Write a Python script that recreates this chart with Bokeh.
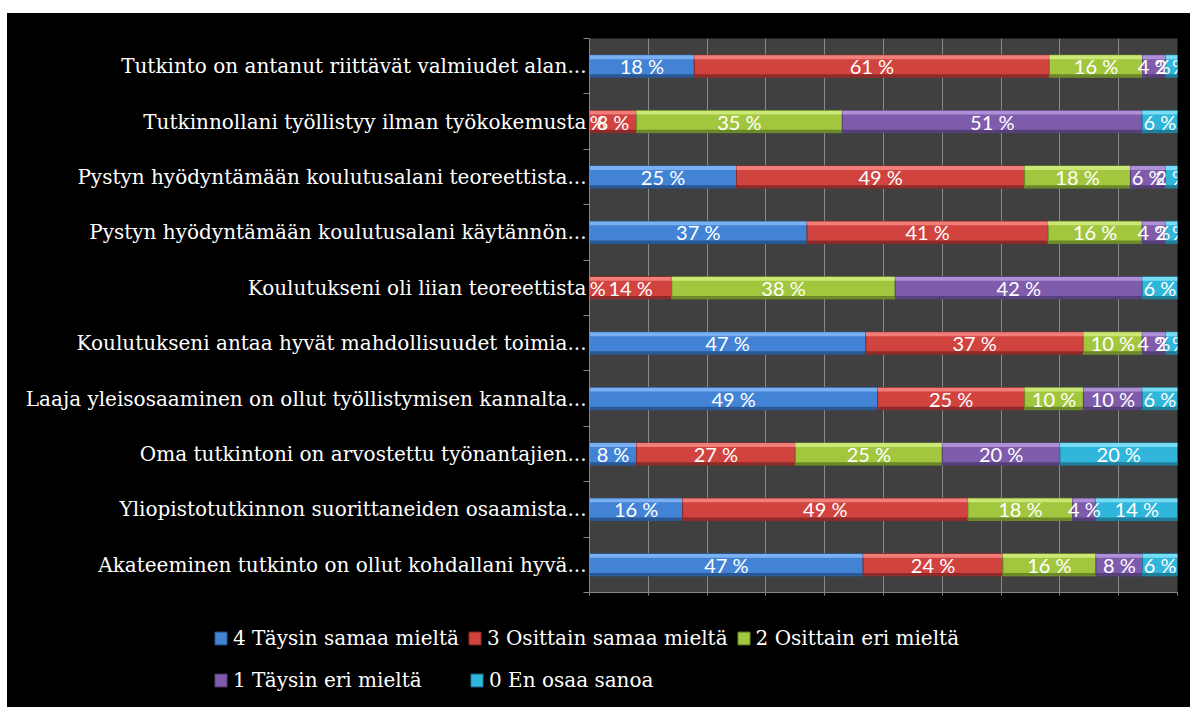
from bokeh.plotting import figure
from bokeh.models import ColumnDataSource, FixedTicker, Legend, LegendItem, Range1d, Spacer
from bokeh.layouts import column, row
from bokeh.core.properties import value
from bokeh.transform import dodge
from bokeh.embed import file_html
from bokeh.resources import INLINE

categories = [
    "Tutkinto on antanut riittävät valmiudet alan...",
    "Tutkinnollani työllistyy ilman työkokemusta",
    "Pystyn hyödyntämään koulutusalani teoreettista...",
    "Pystyn hyödyntämään koulutusalani käytännön...",
    "Koulutukseni oli liian teoreettista",
    "Koulutukseni antaa hyvät mahdollisuudet toimia...",
    "Laaja yleisosaaminen on ollut työllistymisen kannalta...",
    "Oma tutkintoni on arvostettu työnantajien...",
    "Yliopistotutkinnon suorittaneiden osaamista...",
    "Akateeminen tutkinto on ollut kohdallani hyvä...",
]

series_names = [
    "4 Täysin samaa mieltä",
    "3 Osittain samaa mieltä",
    "2 Osittain eri mieltä",
    "1 Täysin eri mieltä",
    "0 En osaa sanoa",
]

taysin_samaa = [18, 0, 25, 37, 0, 47, 49, 8, 16, 47]
osittain_samaa = [61, 8, 49, 41, 14, 37, 25, 27, 49, 24]
osittain_eri = [16, 35, 18, 16, 38, 10, 10, 25, 18, 16]
taysin_eri = [4, 51, 6, 4, 42, 4, 10, 20, 4, 8]
en_osaa = [2, 6, 2, 2, 6, 2, 6, 20, 14, 6]

series_values = [taysin_samaa, osittain_samaa, osittain_eri, taysin_eri, en_osaa]

colors = ["#4283d6", "#d0433f", "#a2c63e", "#7f5cab", "#2fb6da"]
light = ["#7ab0f2", "#f27e7a", "#cbe877", "#ae90d6", "#78dcf4"]
dark = ["#2a5894", "#8c2b29", "#6c8929", "#56407a", "#1f7e99"]

n = len(categories)
ypos = [n - 1 - i for i in range(n)]
totals = [sum(s[i] for s in series_values) for i in range(n)]

p = figure(
    width=1183, height=589,
    x_range=Range1d(0, 100), y_range=Range1d(-0.5, n - 0.5),
    output_backend="svg", toolbar_location=None,
    background_fill_color="#404040", border_fill_color="black",
    outline_line_color=None,
    min_border_left=582, min_border_right=13, min_border_top=25, min_border_bottom=10,
)

# axes
p.yaxis.ticker = FixedTicker(ticks=ypos, minor_ticks=[k - 0.5 for k in range(n + 1)])
p.yaxis.major_label_overrides = {ypos[i]: categories[i] for i in range(n)}
p.yaxis.major_label_text_font = "DejaVu Serif"
p.yaxis.major_label_text_font_size = "20px"
p.yaxis.major_label_text_color = "white"
p.yaxis.major_tick_out = 0
p.yaxis.major_tick_in = 0
p.yaxis.minor_tick_out = 6
p.yaxis.minor_tick_in = 0
p.yaxis.minor_tick_line_color = "#868686"
p.yaxis.axis_line_color = "#868686"
p.yaxis.major_label_standoff = -3

xt = list(range(0, 101, 10))
p.xaxis.ticker = FixedTicker(ticks=xt)
p.xaxis.major_label_text_color = None
p.xaxis.major_label_text_font_size = "1px"
p.xaxis.major_label_standoff = 0
p.xaxis.major_tick_out = 3
p.xaxis.major_tick_in = 0
p.xaxis.major_tick_line_color = "#868686"
p.xaxis.axis_line_color = "#868686"
p.xgrid.ticker = FixedTicker(ticks=xt)
p.xgrid.grid_line_color = "#8a8a8a"
p.ygrid.grid_line_color = None

cum = [0.0] * n
bounds = []
for k, vals in enumerate(series_values):
    left = cum[:]
    right = [cum[i] + vals[i] * 100.0 / totals[i] for i in range(n)]
    cum = right
    bounds.append((left, right))
    src = ColumnDataSource(dict(y=ypos, left=left, right=right))
    p.hbar(y="y", left="left", right="right", height=0.40, source=src,
           fill_color=colors[k], line_color=dark[k], line_width=1)
    p.hbar(y=dodge("y", 0.162), left="left", right="right", height=0.07, source=src,
           fill_color=light[k], line_color=None)
    p.hbar(y=dodge("y", -0.172), left="left", right="right", height=0.05, source=src,
           fill_color=dark[k], line_color=None)

# labels after all bars so they are on top
for k, vals in enumerate(series_values):
    left, right = bounds[k]
    lsrc = ColumnDataSource(dict(
        y=ypos, mid=[(left[i] + right[i]) / 2 for i in range(n)],
        label=[f"{v} %" for v in vals],
    ))
    p.text(x="mid", y="y", text="label", source=lsrc, text_color="white",
           text_font=value("Lato"), text_font_size="20px",
           text_align="center", text_baseline="middle")

# legend figure below the chart
lf = figure(
    width=1183, height=105, x_range=Range1d(0, 1), y_range=Range1d(0, 1),
    output_backend="svg", toolbar_location=None,
    background_fill_color="black", border_fill_color="black", outline_line_color=None,
    min_border_left=0, min_border_right=0, min_border_top=0, min_border_bottom=0,
)
lf.axis.visible = False
lf.grid.visible = False
legend_renderers = []
for k in range(5):
    # hidden renderer used only for the legend swatch
    r = lf.hbar(y=[5], left=[0], right=[1], height=0.4,
                fill_color=colors[k], line_color=dark[k], line_width=1, visible=False)
    legend_renderers.append(r)

items = [LegendItem(label=series_names[k], renderers=[legend_renderers[k]]) for k in range(5)]
common = dict(
    orientation="horizontal", padding=0, margin=0, spacing=8, label_standoff=5,
    glyph_width=15, glyph_height=16, label_height=20,
    background_fill_alpha=0, border_line_color=None,
    label_text_color="white", label_text_font="DejaVu Serif", label_text_font_size="20px",
)
leg1 = Legend(items=items[:3], location=(206, 57), **common)
leg2 = Legend(items=items[3:], location=(206, 15), label_width=228, **common)
lf.add_layout(leg1)
lf.add_layout(leg2)

white = {"background-color": "white"}
layout = column(
    Spacer(width=1190, height=13, styles=white),
    row(Spacer(width=7, height=589, styles=white), p),
    row(Spacer(width=7, height=105, styles=white), lf),
    styles={"background-color": "black"},
)
open("out.html", "w").write(file_html(layout, INLINE))
